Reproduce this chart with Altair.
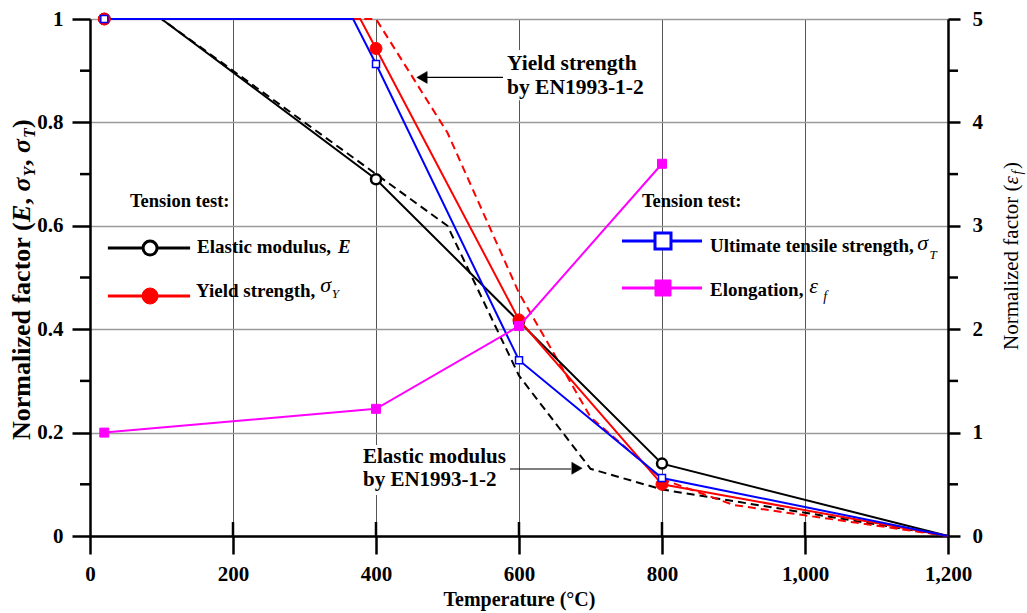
import altair as alt
import pandas as pd

FONT = "Liberation Serif"

# ---------------- data ----------------
# Tension test, elastic modulus E
E_LINE_T = [20, 100, 400, 600, 800, 1200]
E_LINE_V = [1.0, 1.0, 0.69, 0.415, 0.14, 0.0]
E_MARK_T = [20, 400, 600, 800]
E_MARK_V = [1.0, 0.69, 0.415, 0.14]
# Yield strength sigma_Y
SY_LINE_T = [20, 378, 400, 600, 800, 1200]
SY_LINE_V = [1.0, 1.0, 0.943, 0.418, 0.10, 0.0]
SY_MARK_T = [20, 400, 600, 800]
SY_MARK_V = [1.0, 0.943, 0.418, 0.10]
# Ultimate tensile strength sigma_T
ST_LINE_T = [20, 368, 400, 600, 800, 1200]
ST_LINE_V = [1.0, 1.0, 0.913, 0.34, 0.112, 0.0]
ST_MARK_T = [20, 400, 600, 800]
ST_MARK_V = [1.0, 0.913, 0.34, 0.112]
# Elongation eps_f (right axis)
EF_T = [20, 400, 600, 800]
EF_V = [1.0, 1.23, 2.03, 3.6]
# EN1993-1-2 reduction factors
EN_E_T = [20, 100, 200, 300, 400, 500, 600, 700, 800, 900, 1000, 1100, 1200]
EN_E_V = [1.0, 1.0, 0.9, 0.8, 0.7, 0.6, 0.31, 0.13, 0.09, 0.0675, 0.045, 0.0225, 0.0]
EN_Y_T = [20, 400, 500, 600, 700, 800, 900, 1000, 1100, 1200]
EN_Y_V = [1.0, 1.0, 0.78, 0.47, 0.23, 0.11, 0.06, 0.04, 0.02, 0.0]

X_TICKS = [0, 200, 400, 600, 800, 1000, 1200]
X_INNER = [200, 400, 600, 800, 1000]
YL_TICKS = [0, 0.2, 0.4, 0.6, 0.8, 1.0]
YL_MINOR = [0.1, 0.3, 0.5, 0.7, 0.9]
YR_TICKS = [0, 1, 2, 3, 4, 5]
YR_MINOR = [0.5, 1.5, 2.5, 3.5, 4.5]

W, H = 858, 517

# ---------------- scales / axes ----------------
common_axis = dict(
    labelFont=FONT, labelFontSize=21, labelFontWeight="bold", labelColor="black",
    tickColor="black", tickWidth=2.5, domainColor="black", domainWidth=2.5,
    labelFlush=False, labelOverlap=False,
)
xaxis = alt.Axis(
    values=X_TICKS, format=",d", title="Temperature (°C)", titleFont=FONT,
    titleFontSize=20, titleFontWeight="bold", titleColor="black",
    titleBaseline="alphabetic", titleY=69, titleX=W / 2,
    labelPadding=9, tickSize=18, grid=True, gridColor="#555555", gridWidth=1,
    **common_axis,
)
yaxis_l = alt.Axis(
    values=YL_TICKS, format=".1~f", title="", orient="left", labelPadding=9,
    tickSize=18, grid=True, gridColor="#9a9a9a", gridWidth=1.3, **common_axis,
)
yaxis_r = alt.Axis(
    values=YR_TICKS, format="d", title="", orient="right", labelPadding=12,
    tickSize=12, grid=False, **common_axis,
)
X = alt.X("t:Q", scale=alt.Scale(domain=[0, 1200], nice=False, zero=False), axis=xaxis)
YL = alt.Y("v:Q", scale=alt.Scale(domain=[0, 1], nice=False), axis=yaxis_l)
YR = alt.Y("v:Q", scale=alt.Scale(domain=[0, 5], nice=False), axis=yaxis_r)

DUMMY = pd.DataFrame({"k": [0]})


def df(ts, vs):
    return pd.DataFrame({"t": ts, "v": vs})


def line(ts, vs, color, width=2.0, dash=None, y=YL):
    kw = dict(color=color, strokeWidth=width)
    if dash:
        kw["strokeDash"] = dash
    return alt.Chart(df(ts, vs)).mark_line(**kw).encode(x=X, y=y)


def pts(ts, vs, shape, size, fill, stroke, sw, y=YL):
    return alt.Chart(df(ts, vs)).mark_point(
        shape=shape, size=size, filled=True, fill=fill, stroke=stroke,
        strokeWidth=sw, opacity=1,
    ).encode(x=X, y=y)


def dtext(t, v, s, size=19, weight="bold", style="normal"):
    return alt.Chart(df([t], [v])).mark_text(
        text=s, font=FONT, fontSize=size, fontWeight=weight, fontStyle=style,
        align="left", baseline="alphabetic", color="black",
    ).encode(x=X, y=YL)


def ptext(x, y, s, size, weight="bold", style="normal", angle=270, dx=0, dy=0):
    kw = dict(text=s, font=FONT, fontSize=size, fontWeight=weight, fontStyle=style,
              align="left", baseline="alphabetic", color="black", angle=angle)
    if dx:
        kw["dx"] = dx
    if dy:
        kw["dy"] = dy
    return alt.Chart(DUMMY).mark_text(**kw).encode(x=alt.value(x), y=alt.value(y))


left_layers = []
# annotation boxes (white background behind text)
boxes = pd.DataFrame({"t": [573.4, 377.6], "t2": [776.2, 587.4],
                      "v": [0.843, 0.0793], "v2": [0.94, 0.176]})
left_layers.append(alt.Chart(boxes).mark_rect(color="white").encode(
    x=X, x2=alt.X2("t2"), y=YL, y2=alt.Y2("v2")))

# inward part of the bottom ticks
left_layers.append(alt.Chart(pd.DataFrame({"t": X_INNER})).mark_rule(
    color="black", strokeWidth=2.5).encode(x=X, y=alt.value(H - 14), y2=alt.value(H)))

# EN1993 dashed curves
left_layers.append(line(EN_E_T, EN_E_V, "black", 2, [8, 5]))
left_layers.append(line(EN_Y_T, EN_Y_V, "#ff0000", 2, [8, 5]))
# test curves
left_layers.append(line(E_LINE_T, E_LINE_V, "black", 2))
left_layers.append(line(SY_LINE_T, SY_LINE_V, "#ff0000", 2))
left_layers.append(line(ST_LINE_T, ST_LINE_V, "#0000ff", 2))
left_layers.append(pts(E_MARK_T, E_MARK_V, "circle", 100, "white", "black", 2.5))
left_layers.append(pts(SY_MARK_T, SY_MARK_V, "circle", 144, "#ff0000", "#ff0000", 1))
left_layers.append(pts(ST_MARK_T, ST_MARK_V, "square", 49, "white", "#0000ff", 1.5))

# minor ticks on left axis
left_layers.append(alt.Chart(pd.DataFrame({"v": YL_MINOR})).mark_rule(
    color="black", strokeWidth=2.5).encode(x=alt.value(-10), x2=alt.value(0), y=YL))

# ---- legends (left) ----
left_layers.append(dtext(55.9, 0.6364, "Tension test:", 18.5))
left_layers.append(line([25, 140], [0.557, 0.557], "black", 3))
left_layers.append(pts([84], [0.557], "circle", 196, "white", "black", 3))
left_layers.append(dtext(149.7, 0.5474, "Elastic modulus,"))
left_layers.append(dtext(347, 0.5474, "E", 19, "bold", "italic"))
left_layers.append(line([25, 140], [0.4642, 0.4642], "#ff0000", 3))
left_layers.append(pts([84], [0.4642], "circle", 256, "#ff0000", "#ff0000", 1))
left_layers.append(dtext(148.3, 0.4623, "Yield strength,"))
left_layers.append(dtext(322, 0.472, "σ", 22, "normal", "italic"))
left_layers.append(dtext(338, 0.4603, "Y", 13, "normal", "italic"))

# ---- legends (right) ----
left_layers.append(dtext(772, 0.6364, "Tension test:", 18.5))
left_layers.append(line([744, 856], [0.5706, 0.5706], "#0000ff", 3))
left_layers.append(pts([801.4], [0.5706], "square", 256, "white", "#0000ff", 3))
left_layers.append(dtext(867.1, 0.5493, "Ultimate tensile strength,"))
left_layers.append(dtext(1157, 0.5532, "σ", 22, "normal", "italic"))
left_layers.append(dtext(1174, 0.5358, "T", 13, "normal", "italic"))
left_layers.append(line([744, 856], [0.4797, 0.4797], "#ff00ff", 3))
left_layers.append(pts([801.4], [0.4797], "square", 256, "#ff00ff", "#ff00ff", 1))
left_layers.append(dtext(867.1, 0.4642, "Elongation,"))
left_layers.append(dtext(1006, 0.47, "ε", 22, "normal", "italic"))
left_layers.append(dtext(1025.5, 0.4545, "f", 14, "normal", "italic"))

# ---- annotations ----
left_layers.append(dtext(583.2, 0.9014, "Yield strength", 21.5))
left_layers.append(dtext(583.2, 0.855, "by EN1993-1-2", 21.5))
left_layers.append(line([468.5, 577.6], [0.887, 0.887], "black", 1.2))
left_layers.append(pts([464.3], [0.887], "triangle-left", 144, "black", "black", 0.5))
left_layers.append(dtext(381.8, 0.1418, "Elastic modulus", 21))
left_layers.append(dtext(381.8, 0.0967, "by EN1993-1-2", 21))
left_layers.append(line([587.4, 672.7], [0.1296, 0.1296], "black", 1.2))
left_layers.append(pts([681.1], [0.131], "triangle-right", 144, "black", "black", 0.5))

# ---- left axis title (rotated, mixed fonts) ----
LX, LY = -60, 421
left_layers.append(ptext(LX, LY, "Normalized factor (", 26))
left_layers.append(ptext(LX, LY, "E", 26, "bold", "italic", dx=218))
left_layers.append(ptext(LX, LY, ",", 26, dx=235.4))
left_layers.append(ptext(LX, LY, "σ", 26, "bold", "italic", dx=248.4))
left_layers.append(ptext(LX, LY, "Y", 16, "bold", "italic", dx=263.4, dy=5))
left_layers.append(ptext(LX, LY, ",", 26, dx=274))
left_layers.append(ptext(LX, LY, "σ", 26, "bold", "italic", dx=287))
left_layers.append(ptext(LX, LY, "T", 16, "bold", "italic", dx=302, dy=5))
left_layers.append(ptext(LX, LY, ")", 26, dx=312))

# ---- right axis title ----
RX, RY = 928, 331
left_layers.append(ptext(RX, RY, "Normalized factor (", 21, "normal"))
left_layers.append(ptext(RX, RY, "ε", 21, "normal", "italic", dx=165.6))
left_layers.append(ptext(RX, RY, "f", 14, "normal", "italic", dx=175.5, dy=4))
left_layers.append(ptext(RX, RY, ")", 21, "normal", dx=181))

left = alt.layer(*left_layers)

right_layers = [
    line(EF_T, EF_V, "#ff00ff", 2, y=YR),
    pts(EF_T, EF_V, "square", 81, "#ff00ff", "#ff00ff", 1, y=YR),
    alt.Chart(pd.DataFrame({"v": YR_MINOR})).mark_rule(
        color="black", strokeWidth=2.5).encode(x=alt.value(W), x2=alt.value(W + 10), y=YR),
]
right = alt.layer(*right_layers)

chart = alt.layer(left, right).resolve_scale(y="independent").properties(
    width=W, height=H,
    autosize=alt.AutoSizeParams(type="none"),
    padding={"left": 90, "top": 19, "right": 79, "bottom": 77},
    background="white",
).configure_view(stroke="transparent")

chart.save("out.html", embed_options={"renderer": "svg", "actions": False})
